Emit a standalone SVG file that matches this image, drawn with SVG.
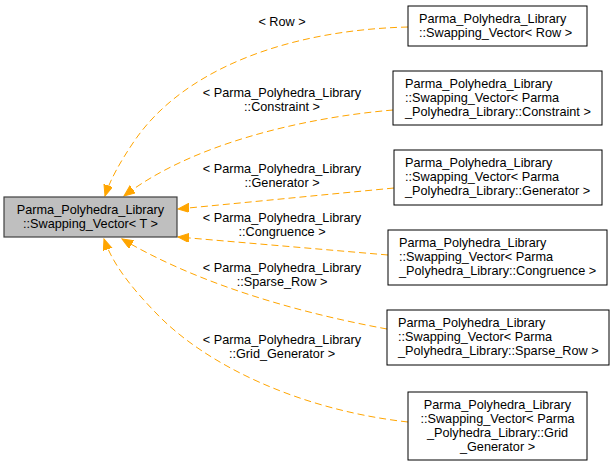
<svg xmlns="http://www.w3.org/2000/svg" width="615" height="467" viewBox="0 0 615 467">
<style>
text{font-family:"Liberation Sans",Arial,Helvetica,sans-serif;font-size:12.7px;fill:#000}
.box{fill:#fff;stroke:#000;stroke-width:1}
.main{fill:#bfbfbf;stroke:#404040;stroke-width:1.2}
.edge{fill:none;stroke:#ffa500;stroke-width:1;stroke-dasharray:7,4}
.c{text-anchor:middle}
</style>
<defs>
<marker id="ah" markerUnits="userSpaceOnUse" markerWidth="12" markerHeight="10" refX="11" refY="4.5" orient="auto">
<path d="M0,0 L11,4.5 L0,9 z" fill="#ffa500" stroke="#ffa500" stroke-width="1"/>
</marker>
</defs>
<rect width="615" height="467" fill="#fff"/>
<g id="edges">
<path class="edge" marker-end="url(#ah)" d="M408,27 C290,30 185,68 135,140 C120,162 110,180 105,196"/>
<path class="edge" marker-end="url(#ah)" d="M393,110 C300,118 190,145 124,196"/>
<path class="edge" marker-end="url(#ah)" d="M394,188 L178,209"/>
<path class="edge" marker-end="url(#ah)" d="M388,255 L178,237"/>
<path class="edge" marker-end="url(#ah)" d="M387,329 C300,313 200,285 122,239"/>
<path class="edge" marker-end="url(#ah)" d="M408,422 C300,410 205,365 155,312 C128,284 112,262 104,239"/>
<text class="c" x="282" y="26">&lt; Row &gt;</text>
<text class="c" x="282" y="97">&lt; Parma_Polyhedra_Library</text>
<text class="c" x="282" y="111">::Constraint &gt;</text>
<text class="c" x="282" y="173">&lt; Parma_Polyhedra_Library</text>
<text class="c" x="282" y="187">::Generator &gt;</text>
<text class="c" x="282" y="222">&lt; Parma_Polyhedra_Library</text>
<text class="c" x="282" y="236">::Congruence &gt;</text>
<text class="c" x="282" y="272">&lt; Parma_Polyhedra_Library</text>
<text class="c" x="282" y="286">::Sparse_Row &gt;</text>
<text class="c" x="282" y="344">&lt; Parma_Polyhedra_Library</text>
<text class="c" x="282" y="358">::Grid_Generator &gt;</text>
</g>
<g id="main">
<rect class="main" x="4" y="197" width="173" height="40"/>
<text class="c" x="90.5" y="213.5">Parma_Polyhedra_Library</text>
<text class="c" x="90.5" y="227.5">::Swapping_Vector&lt; T &gt;</text>
</g>
<g id="row">
<rect class="box" x="408" y="6" width="179" height="40"/>
<text x="419" y="22.5">Parma_Polyhedra_Library</text>
<text x="419" y="36.5">::Swapping_Vector&lt; Row &gt;</text>
</g>
<g id="constraint">
<rect class="box" x="393" y="71" width="209" height="54"/>
<text x="405" y="87.5">Parma_Polyhedra_Library</text>
<text x="405" y="101.5">::Swapping_Vector&lt; Parma</text>
<text x="405" y="115.5">_Polyhedra_Library::Constraint &gt;</text>
</g>
<g id="generator">
<rect class="box" x="394" y="150" width="208" height="55"/>
<text x="405" y="167">Parma_Polyhedra_Library</text>
<text x="405" y="181">::Swapping_Vector&lt; Parma</text>
<text x="405" y="195">_Polyhedra_Library::Generator &gt;</text>
</g>
<g id="congruence">
<rect class="box" x="388" y="230" width="219" height="55"/>
<text x="399" y="247">Parma_Polyhedra_Library</text>
<text x="399" y="261">::Swapping_Vector&lt; Parma</text>
<text x="399" y="275">_Polyhedra_Library::Congruence &gt;</text>
</g>
<g id="sparse_row">
<rect class="box" x="387" y="310" width="222" height="55"/>
<text x="398" y="327">Parma_Polyhedra_Library</text>
<text x="398" y="341">::Swapping_Vector&lt; Parma</text>
<text x="398" y="355">_Polyhedra_Library::Sparse_Row &gt;</text>
</g>
<g id="grid_generator">
<rect class="box" x="408" y="392" width="179" height="68"/>
<text class="c" x="497.5" y="408.5">Parma_Polyhedra_Library</text>
<text class="c" x="497.5" y="422.5">::Swapping_Vector&lt; Parma</text>
<text class="c" x="497.5" y="436.5">_Polyhedra_Library::Grid</text>
<text class="c" x="497.5" y="450.5">_Generator &gt;</text>
</g>
</svg>
